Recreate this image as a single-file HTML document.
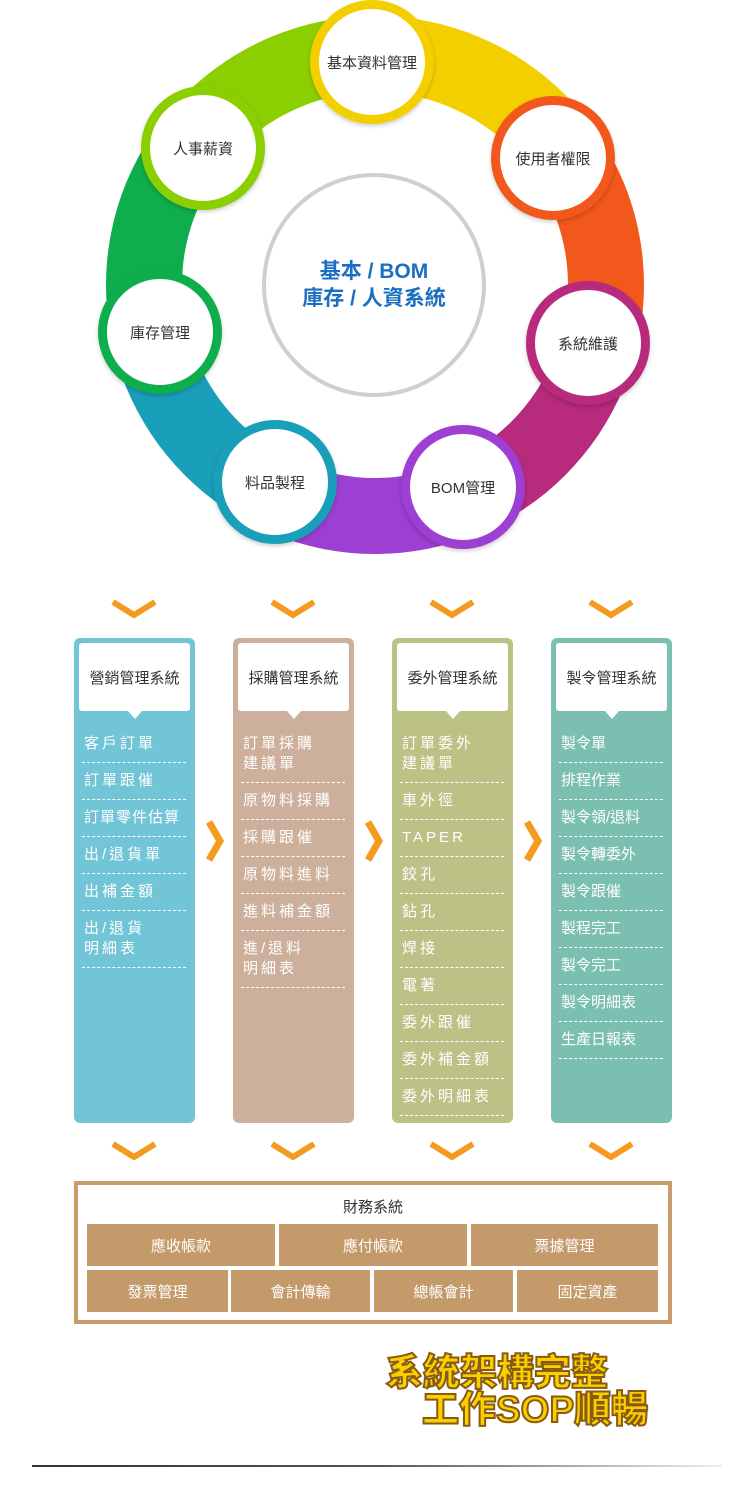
<!DOCTYPE html>
<html><head><meta charset="utf-8"><style>
*{margin:0;padding:0;box-sizing:border-box}
body{width:747px;height:1511px;background:#fff;position:relative;overflow:hidden;font-family:"Liberation Sans","Noto Sans CJK TC",sans-serif}
.abs{position:absolute}
.ring{left:106px;top:16px;width:538px;height:538px;border-radius:50%;
background:conic-gradient(#f4cf00 0deg 54deg,#f2581c 54deg 105deg,#b82a7c 105deg 156deg,#9d3fd2 156deg 207deg,#1a9fba 207deg 258deg,#0eae4d 258deg 309deg,#8ccf00 309deg 360deg)}
.hole{left:182px;top:92px;width:386px;height:386px;border-radius:50%;background:#fff}
.center{left:262px;top:173px;width:224px;height:224px;border-radius:50%;border:4px solid #cfcfcf;background:#fff;display:flex;align-items:center;justify-content:center;text-align:center;color:#1a6fc0;font-size:21px;line-height:27px;font-weight:bold}
.node{width:124px;height:124px;border-radius:50%;background:#fff;border:9px solid;display:flex;align-items:center;justify-content:center;font-size:15px;color:#333;box-shadow:0 2px 4px rgba(0,0,0,.2)}
.col{top:638px;width:121px;height:485px;border-radius:6px}
.hd{position:absolute;left:5px;top:5px;width:111px;height:68px;background:#fff;border-radius:3px;display:flex;align-items:center;justify-content:center;font-size:15px;color:#333}
.hd:after{content:"";position:absolute;left:50%;bottom:-8px;margin-left:-7px;border-left:7px solid transparent;border-right:7px solid transparent;border-top:8px solid #fff}
.list{position:absolute;left:8px;top:96px;width:104px}
.it{color:#fff;font-size:15px;letter-spacing:3px;line-height:20px;padding:0 0 8px 2px;border-bottom:1px dashed #fff;margin-bottom:8px}
.fin{left:74px;top:1181px;width:598px;height:143px;border:4px solid #c89c6e}
.cell{position:absolute;background:#c59a6b;color:#fff;font-size:15px;display:flex;align-items:center;justify-content:center}
.slog{font-size:37px;font-weight:900;color:#f8d000;-webkit-text-stroke:2px #8a5a10;letter-spacing:0;line-height:37px}
</style></head><body>
<div class="abs ring"></div><div class="abs hole"></div>
<div class="abs center">基本 / BOM<br>庫存 / 人資系統</div>
<div class="abs node" style="left:310px;top:0px;border-color:#f4cf00">基本資料管理</div>
<div class="abs node" style="left:141px;top:86px;border-color:#8ccf00">人事薪資</div>
<div class="abs node" style="left:491px;top:96px;border-color:#f2581c">使用者權限</div>
<div class="abs node" style="left:98px;top:270px;border-color:#0eae4d">庫存管理</div>
<div class="abs node" style="left:526px;top:281px;border-color:#b82a7c">系統維護</div>
<div class="abs node" style="left:213px;top:420px;border-color:#1a9fba">料品製程</div>
<div class="abs node" style="left:401px;top:425px;border-color:#9d3fd2">BOM管理</div>

<svg class="abs" style="left:0;top:0" width="747" height="1511">
<g fill="none" stroke="#f39a1f" stroke-width="6" stroke-linejoin="miter">
<polyline points="113,602 134,615 155,602"/><polyline points="272,602 293,615 314,602"/><polyline points="431,602 452,615 473,602"/><polyline points="590,602 611,615 632,602"/>
<polyline points="113,1144 134,1157 155,1144"/><polyline points="272,1144 293,1157 314,1144"/><polyline points="431,1144 452,1157 473,1144"/><polyline points="590,1144 611,1157 632,1144"/>
<polyline stroke-width="7" points="209,822 220,841 209,860"/><polyline stroke-width="7" points="368,822 379,841 368,860"/><polyline stroke-width="7" points="527,822 538,841 527,860"/>
</g></svg>

<div class="abs col" style="left:74px;background:#72c5d6"><div class="hd">營銷管理系統</div>
<div class="list"><div class="it">客戶訂單</div><div class="it">訂單跟催</div><div class="it" style="letter-spacing:1px">訂單零件估算</div><div class="it">出/退貨單</div><div class="it">出補金額</div><div class="it">出/退貨<br>明細表</div></div></div>
<div class="abs col" style="left:233px;background:#cdb09b"><div class="hd">採購管理系統</div>
<div class="list"><div class="it">訂單採購<br>建議單</div><div class="it">原物料採購</div><div class="it">採購跟催</div><div class="it">原物料進料</div><div class="it">進料補金額</div><div class="it">進/退料<br>明細表</div></div></div>
<div class="abs col" style="left:392px;background:#bcc186"><div class="hd">委外管理系統</div>
<div class="list"><div class="it">訂單委外<br>建議單</div><div class="it">車外徑</div><div class="it">TAPER</div><div class="it">鉸孔</div><div class="it">鉆孔</div><div class="it">焊接</div><div class="it">電著</div><div class="it">委外跟催</div><div class="it">委外補金額</div><div class="it">委外明細表</div></div></div>
<div class="abs col" style="left:551px;background:#7bbfb1"><div class="hd">製令管理系統</div>
<div class="list"><div class="it" style="letter-spacing:0">製令單</div><div class="it" style="letter-spacing:0">排程作業</div><div class="it" style="letter-spacing:0">製令領/退料</div><div class="it" style="letter-spacing:0">製令轉委外</div><div class="it" style="letter-spacing:0">製令跟催</div><div class="it" style="letter-spacing:0">製程完工</div><div class="it" style="letter-spacing:0">製令完工</div><div class="it" style="letter-spacing:0">製令明細表</div><div class="it" style="letter-spacing:0">生產日報表</div></div></div>

<div class="abs fin"></div>
<div class="abs" style="left:74px;top:1196px;width:598px;text-align:center;font-size:15px;color:#333">財務系統</div>
<div class="cell" style="left:87px;top:1224px;width:188px;height:42px">應收帳款</div>
<div class="cell" style="left:279px;top:1224px;width:188px;height:42px">應付帳款</div>
<div class="cell" style="left:471px;top:1224px;width:187px;height:42px">票據管理</div>
<div class="cell" style="left:87px;top:1270px;width:141px;height:42px">發票管理</div>
<div class="cell" style="left:231px;top:1270px;width:139px;height:42px">會計傳輸</div>
<div class="cell" style="left:374px;top:1270px;width:139px;height:42px">總帳會計</div>
<div class="cell" style="left:517px;top:1270px;width:141px;height:42px">固定資產</div>

<div class="abs slog" style="left:386px;top:1354px">系統架構完整</div>
<div class="abs slog" style="left:422px;top:1391px">工作SOP順暢</div>
<div class="abs" style="left:32px;top:1465px;width:690px;height:2px;background:linear-gradient(90deg,#333,#555 50%,#eee)"></div>
</body></html>
